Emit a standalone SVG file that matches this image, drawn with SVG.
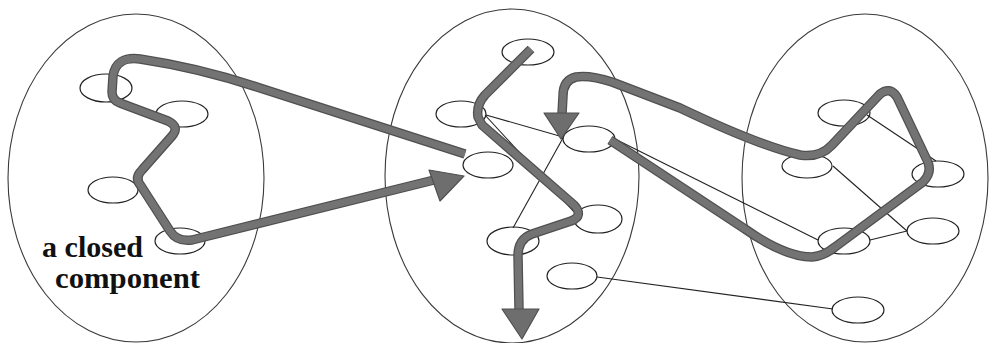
<svg xmlns="http://www.w3.org/2000/svg" width="989" height="343" viewBox="0 0 989 343">
<style>
.big{fill:none;stroke:#3a3a3a;stroke-width:1.1}
.node{fill:none;stroke:#222;stroke-width:1.2}
.thin{stroke:#222;stroke-width:1.1;fill:none}
.pathO{fill:none;stroke:#505050;stroke-width:9.5;stroke-linejoin:round;stroke-linecap:butt}
.pathI{fill:none;stroke:#737373;stroke-width:7;stroke-linejoin:round;stroke-linecap:butt}
.head{fill:#6e6e6e;stroke:#505050;stroke-width:1.2;stroke-linejoin:round}
.lbl{font-family:"Liberation Serif","Times New Roman",serif;font-weight:bold;font-size:29px;fill:#111}
</style>
<rect width="989" height="343" fill="#fff"/>
<g id="components">
<ellipse id="comp1" class="big" cx="136" cy="178" rx="128" ry="164"/>
<ellipse id="comp2" class="big" cx="512" cy="176" rx="127" ry="167"/>
<ellipse id="comp3" class="big" cx="865" cy="178" rx="123" ry="164"/>
</g>
<g id="connectors">
<line class="thin" x1="486" y1="115" x2="563" y2="137"/>
<line class="thin" x1="485" y1="115" x2="574" y2="212"/>
<line class="thin" x1="563" y1="138" x2="513" y2="228"/>
<line class="thin" x1="613" y1="138" x2="818" y2="240"/>
<line class="thin" x1="597" y1="277" x2="833" y2="309"/>
<line class="thin" x1="867" y1="115" x2="936" y2="161"/>
<line class="thin" x1="833" y1="166" x2="907" y2="231"/>
<line class="thin" x1="870" y1="240" x2="907" y2="231"/>
</g>
<g id="n-e1"><ellipse class="node" cx="106" cy="88" rx="26" ry="14"/></g>
<g id="n-e2"><ellipse class="node" cx="182" cy="114" rx="26" ry="13"/></g>
<g id="n-e3"><ellipse class="node" cx="113" cy="190" rx="25" ry="13"/></g>
<g id="n-e4"><ellipse class="node" cx="180" cy="241" rx="25" ry="13"/></g>
<g id="n-m1"><ellipse class="node" cx="528" cy="52" rx="26" ry="13"/></g>
<g id="n-m2"><ellipse class="node" cx="461" cy="114" rx="25" ry="13"/></g>
<g id="n-m3"><ellipse class="node" cx="488" cy="165" rx="25" ry="13"/></g>
<g id="n-m4"><ellipse class="node" cx="589" cy="139" rx="26" ry="13"/></g>
<g id="n-m5"><ellipse class="node" cx="598" cy="219" rx="24" ry="14"/></g>
<g id="n-m6"><ellipse class="node" cx="513" cy="241" rx="26" ry="14"/></g>
<g id="n-m7"><ellipse class="node" cx="572" cy="276" rx="25" ry="13"/></g>
<g id="n-r1"><ellipse class="node" cx="844" cy="113" rx="26" ry="13"/></g>
<g id="n-r2"><ellipse class="node" cx="807" cy="166" rx="25" ry="12"/></g>
<g id="n-r3"><ellipse class="node" cx="938" cy="174" rx="26" ry="13"/></g>
<g id="n-r4"><ellipse class="node" cx="933" cy="231" rx="26" ry="13"/></g>
<g id="n-r5"><ellipse class="node" cx="844" cy="241" rx="26" ry="13"/></g>
<g id="n-r6"><ellipse class="node" cx="858" cy="310" rx="26" ry="13"/></g>
<g id="paths">
<g id="path-left">
<path class="pathO" d="M465,154 L260,88 Q200,68 140,59 Q116,56 113,76 L112,92 Q112,100 120,103 L168,121 Q180,127 172,136 L142,170 Q134,178 141,186 L170,231 Q177,242 192,240 L434,180"/>
<path class="pathI" d="M465,154 L260,88 Q200,68 140,59 Q116,56 113,76 L112,92 Q112,100 120,103 L168,121 Q180,127 172,136 L142,170 Q134,178 141,186 L170,231 Q177,242 192,240 L434,180"/>
<polygon class="head" points="429,170 440,201 464,176"/>
</g>
<g id="path-middle">
<path class="pathO" d="M531,49 L485,95 Q476,105 478,117 L482,125 L574,205 Q584,216 571,221 L532,234 Q518,239 518,256 L519,309"/>
<path class="pathI" d="M531,49 L485,95 Q476,105 478,117 L482,125 L574,205 Q584,216 571,221 L532,234 Q518,239 518,256 L519,309"/>
<polygon class="head" points="502,309 539,309 522,339"/>
</g>
<g id="path-right">
<path class="pathO" d="M610,140 L745,229 Q785,257 812,257 Q824,256 835,247 L923,182 Q933,172 927,160 L897,97 Q890,86 880,94 L832,145 Q820,158 800,155 Q760,146 680,108 L612,82 Q590,75 576,77 Q563,80 563,96 L562,114"/>
<path class="pathI" d="M610,140 L745,229 Q785,257 812,257 Q824,256 835,247 L923,182 Q933,172 927,160 L897,97 Q890,86 880,94 L832,145 Q820,158 800,155 Q760,146 680,108 L612,82 Q590,75 576,77 Q563,80 563,96 L562,114"/>
<polygon class="head" points="544,113 579,113 561,139"/>
</g>
</g>
<g id="label">
<text class="lbl" x="42" y="257" textLength="101" lengthAdjust="spacingAndGlyphs">a closed</text>
<text class="lbl" x="55" y="288" textLength="145" lengthAdjust="spacingAndGlyphs">component</text>
</g>
</svg>
